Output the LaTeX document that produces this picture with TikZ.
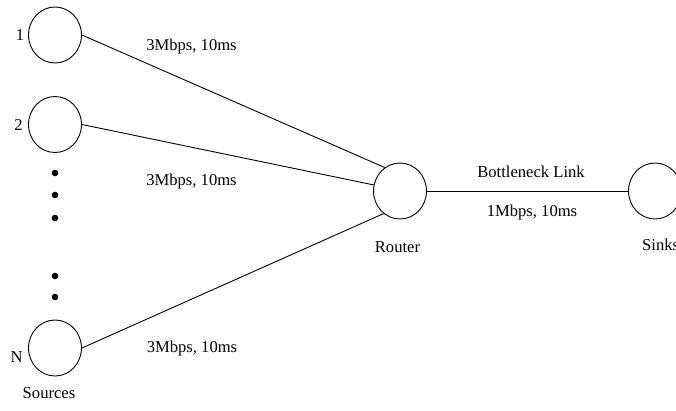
\documentclass[tikz,border=0pt]{standalone}
\usepackage{fontspec}
\setmainfont{Liberation Serif}
\usetikzlibrary{shapes.geometric}
\begin{document}
\begin{tikzpicture}[x=1pt,y=-1pt,
  every node/.style={font=\fontsize{16.6}{20}\selectfont, inner sep=0pt},
  host/.style={ellipse, draw, line width=0.9pt, minimum width=53pt, minimum height=56pt},
  link/.style={line width=0.9pt},
  dotmark/.style={circle, fill, minimum size=6.6pt}]
  \useasboundingbox (0,0) rectangle (676,410);
  \clip (0,0) rectangle (676,410);

  % sources
  \node[host] (s1) at (55,35) {};
  \node[host] (s2) at (55,124.5) {};
  \node[host] (sn) at (55,348) {};
  \node (l1) at (20,35) {1};
  \node (l2) at (18.5,125) {2};
  \node (ln) at (16.5,357) {N};
  \node (src) at (49,393) {Sources};

  % ellipsis dots between the sources
  \node[dotmark] (d1) at (55,173) {};
  \node[dotmark] (d2) at (55,195) {};
  \node[dotmark] (d3) at (55,218) {};
  \node[dotmark] (d4) at (55,276) {};
  \node[dotmark] (d5) at (55,297) {};

  % router and sinks
  \node[host] (router) at (400,191) {};
  \node (rl) at (397.5,247) {Router};
  \node[host] (sinks) at (655,191) {};
  \node[anchor=west] (sl) at (642,245) {Sinks};

  % access links
  \draw[link] (s1.east) -- (router.123);
  \draw[link] (s2.east) -- (router.167);
  \draw[link] (sn.east) -- (router.234);
  \node (a1) at (191.5,47) {3Mbps, 10ms};
  \node (a2) at (191.5,182) {3Mbps, 10ms};
  \node (an) at (192,348) {3Mbps, 10ms};

  % bottleneck link
  \draw[link] (router.east) -- (sinks.west);
  \node (bl) at (531,172) {Bottleneck Link};
  \node (bw) at (532,213) {1Mbps, 10ms};
\end{tikzpicture}
\end{document}
